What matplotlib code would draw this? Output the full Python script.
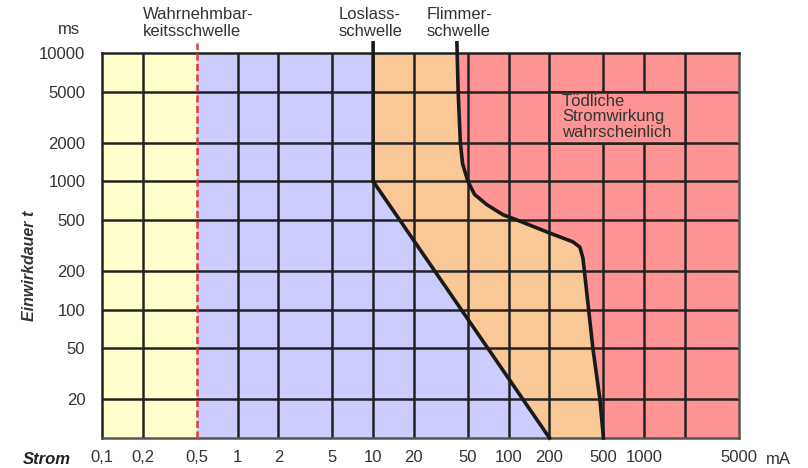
import matplotlib
matplotlib.use("Agg")
import matplotlib.pyplot as plt
from matplotlib.ticker import FixedLocator, NullLocator

plt.rcParams['font.family'] = ['Liberation Sans', 'DejaVu Sans']

# Achsen (mA / ms)
x_ticks = [0.1, 0.2, 0.5, 1, 2, 5, 10, 20, 50, 100, 200, 500, 1000, 5000]
x_labels = ["0,1", "0,2", "0,5", "1", "2", "5", "10", "20", "50", "100", "200", "500", "1000", "5000"]
x_grid = [0.2, 1, 2, 5, 10, 20, 50, 100, 200, 500, 1000, 2000]
y_ticks = [20, 50, 100, 200, 500, 1000, 2000, 5000, 10000]
y_labels = ["20", "50", "100", "200", "500", "1000", "2000", "5000", "10000"]

# Bereichsgrenzen
x_min, x_max = 0.1, 5000
y_min, y_max = 10, 10000
y_top = 12000  # Linien ragen etwas über das Diagramm hinaus
wahrnehmung_x = 0.5

# Loslassschwelle
loslass_x = [10, 10, 200]
loslass_y = [12000, 1000, 10]

# Flimmerschwelle
flimmer_x = [41.5, 42.4, 44, 45.7, 50, 56, 69, 91, 115, 200, 297, 335, 353, 418, 471, 500]
flimmer_y = [12000, 5000, 2000, 1370, 1000, 790, 658, 548, 500, 396, 338, 307, 252, 50, 20, 10]

# Feld hinter dem Text "Tödliche Stromwirkung"
box_x = [200, 2000]
box_y = [2000, 5000]

c_gelb = '#FFFFCC'
c_blau = '#CCCCFF'
c_orange = '#FAC796'
c_rot = '#FF9494'
c_gitter = '#222222'
c_text = '#333333'
fs = 12

fig = plt.figure(figsize=(8.08, 4.68), dpi=100)
ax = fig.add_axes([102 / 808, 1 - 438 / 468, 637 / 808, 385 / 468])
ax.set_xscale('log')
ax.set_yscale('log')
ax.set_xlim(x_min, x_max)
ax.set_ylim(y_min, y_max)

# Flächen
ax.set_facecolor(c_rot)
ax.fill([x_min, wahrnehmung_x, wahrnehmung_x, x_min],
        [y_min, y_min, y_top, y_top], color=c_gelb, lw=0, zorder=1)
ax.fill([wahrnehmung_x, wahrnehmung_x] + loslass_x,
        [y_min, y_top] + loslass_y, color=c_blau, lw=0, zorder=1)
ax.fill(loslass_x + flimmer_x[::-1],
        loslass_y + flimmer_y[::-1], color=c_orange, lw=0, zorder=1)

# Gitter
for gx in x_grid:
    ax.axvline(gx, color=c_gitter, lw=1.8, zorder=2)
for gy in y_ticks[:-1]:
    ax.axhline(gy, color=c_gitter, lw=1.8, zorder=2)

ax.fill([box_x[0], box_x[1], box_x[1], box_x[0]],
        [box_y[0], box_y[0], box_y[1], box_y[1]],
        facecolor=c_rot, edgecolor=c_gitter, lw=1.8, zorder=2.1)

# Kurven
ax.plot([wahrnehmung_x, wahrnehmung_x], [y_min, y_top], color='#E8383A',
        lw=1.8, ls=(0, (2.8, 1.4)), zorder=3, clip_on=False)
ax.plot(loslass_x, loslass_y, color='#1a1a1a', lw=2.6, zorder=4,
        clip_on=False, solid_joinstyle='round')
ax.plot(flimmer_x, flimmer_y, color='#1a1a1a', lw=2.6, zorder=4,
        clip_on=False, solid_joinstyle='round')

for side in ['left', 'top']:
    ax.spines[side].set_color(c_gitter)
    ax.spines[side].set_linewidth(1.8)
for side in ['right', 'bottom']:
    ax.spines[side].set_color('#555555')
    ax.spines[side].set_linewidth(1.8)

ax.xaxis.set_major_locator(FixedLocator(x_ticks))
ax.xaxis.set_minor_locator(NullLocator())
ax.set_xticklabels(x_labels)
ax.yaxis.set_major_locator(FixedLocator(y_ticks))
ax.yaxis.set_minor_locator(NullLocator())
ax.set_yticklabels(y_labels)
ax.tick_params(axis='x', length=0, pad=9, labelsize=fs, labelcolor=c_text)
ax.tick_params(axis='y', length=0, pad=12, labelsize=fs, labelcolor=c_text)

# Beschriftungen
fig.text(69 / 808, 1 - 30 / 468, "ms", ha='center', va='center', fontsize=fs, color=c_text)
fig.text(778 / 808, 1 - 459 / 468, "mA", ha='center', va='center', fontsize=fs, color=c_text)
fig.text(47 / 808, 1 - 459 / 468, "Strom", ha='center', va='center', fontsize=fs,
         fontweight='bold', style='italic', color='#222222')
fig.text(30 / 808, 1 - 266 / 468, "Einwirkdauer t", ha='center', va='center', fontsize=11.5,
         fontweight='bold', style='italic', rotation=90, color=c_text)
fig.text(143 / 808, 1 - 23 / 468, "Wahrnehmbar-\nkeitsschwelle", ha='left', va='center',
         fontsize=fs, color=c_text, linespacing=1.1)
fig.text(339 / 808, 1 - 23 / 468, "Loslass-\nschwelle", ha='left', va='center',
         fontsize=fs, color=c_text, linespacing=1.1)
fig.text(427 / 808, 1 - 23 / 468, "Flimmer-\nschwelle", ha='left', va='center',
         fontsize=fs, color=c_text, linespacing=1.1)
fig.text(562 / 808, 1 - 117 / 468, "Tödliche\nStromwirkung\nwahrscheinlich", ha='left',
         va='center', fontsize=fs, color=c_text, linespacing=1.05, zorder=5)

fig.savefig("out.png", dpi=100)
